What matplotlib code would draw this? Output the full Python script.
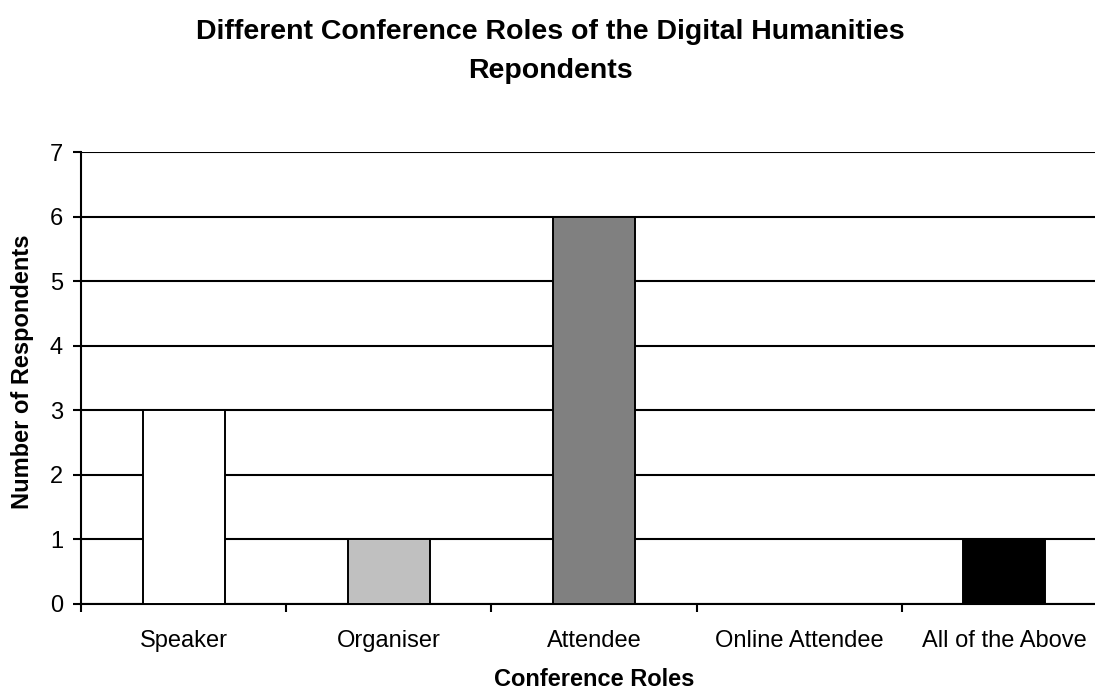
import matplotlib
matplotlib.use("Agg")
import matplotlib.pyplot as plt

roles = ["Speaker", "Organiser", "Attendee", "Online Attendee", "All of the Above"]
counts = [3, 1, 6, 0, 1]
colours = ["#FFFFFF", "#C0C0C0", "#808080", "#FFFFFF", "#000000"]

plt.rcParams["font.family"] = ["Liberation Sans", "DejaVu Sans"]

fig = plt.figure(figsize=(10.95, 6.91), dpi=100)
ax = fig.add_axes([0.074, 0.126, 0.937, 0.654])

ax.set_axisbelow(True)
ax.yaxis.grid(True, color="black", linewidth=1.5)
x = range(len(roles))
ax.bar(x, counts, width=0.40, color=colours, edgecolor="black", linewidth=1.4, zorder=3)

ax.set_xlim(-0.5, len(roles) - 0.5)
ax.set_ylim(0, 7)
ax.set_yticks(range(8))

# major ticks between categories, labels on minor ticks
ax.set_xticks([i + 0.5 for i in range(len(roles) - 1)] + [-0.5])
ax.set_xticklabels([])
ax.set_xticks(list(x), minor=True)
ax.set_xticklabels(roles, minor=True)
ax.tick_params(axis="x", which="minor", length=0, pad=19, labelsize=17)
ax.tick_params(axis="x", which="major", length=6, width=1.5, direction="out")
ax.tick_params(axis="y", length=6, width=1.5, labelsize=17, pad=7)

for side in ["top", "right"]:
    ax.spines[side].set_visible(False)
for side in ["left", "bottom"]:
    ax.spines[side].set_linewidth(1.5)

fig.text(0.5425, 0.007, "Conference Roles", ha="center", va="baseline",
         fontsize=17, fontweight="bold")
fig.text(0.021, 0.462, "Number of Respondents", ha="center", va="center",
         rotation=90, fontsize=17, fontweight="bold")
fig.text(0.503, 0.9436, "Different Conference Roles of the Digital Humanities",
         ha="center", va="baseline", fontsize=20.5, fontweight="bold")
fig.text(0.503, 0.887, "Repondents",
         ha="center", va="baseline", fontsize=20.5, fontweight="bold")

fig.savefig("out.png", dpi=100)
